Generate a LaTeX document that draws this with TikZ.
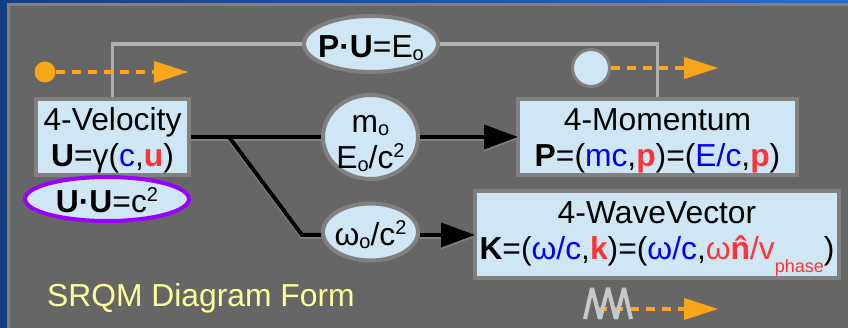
\documentclass[tikz,border=0pt]{standalone}
\usepackage{fontspec}
\setmainfont{Liberation Sans}
\usepackage{xcolor}
\usetikzlibrary{arrows.meta,positioning,calc,shapes.geometric}

\definecolor{panelgray}{HTML}{666666}
\definecolor{rimgray}{HTML}{808080}
\definecolor{linkgray}{HTML}{B0B0B0}
\definecolor{zaggray}{HTML}{C8C8C8}
\definecolor{boxblue}{HTML}{CFE7F5}
\definecolor{tipamber}{HTML}{F9A61A}
\definecolor{timeblue}{HTML}{0000FF}
\definecolor{spacered}{HTML}{FF3333}
\definecolor{normpurple}{HTML}{9900FF}
\definecolor{formyellow}{HTML}{FFFF99}
\definecolor{slideleft}{HTML}{153E80}
\definecolor{slideright}{HTML}{2A6AD0}

\newcommand{\tb}[1]{\textcolor{timeblue}{#1}}
\newcommand{\sr}[1]{\textcolor{spacered}{\textbf{#1}}}
\newcommand{\lowo}{\raisebox{-3pt}{\fontsize{20}{20}\selectfont o}}
\newcommand{\uptwo}{\raisebox{11pt}{\fontsize{20}{20}\selectfont 2}}
\newcommand{\topgap}{\rule{0pt}{30pt}}
\newcommand{\nhat}{\textbf{\rlap{\kern4.4ptˆ}n}}

\begin{document}
\begin{tikzpicture}[x=1pt,y=-1pt,
        every node/.style={font=\fontsize{31.8}{36}\selectfont, text=black},
        block/.style={rectangle, draw=rimgray, line width=4pt, fill=boxblue, inner sep=0pt, align=center},
        oval/.style={ellipse, draw=rimgray, line width=4pt, fill=boxblue, inner sep=-18pt, align=center},
        link/.style={draw=linkgray, line width=3.3pt},
        shadowed/.style={preaction={draw=rimgray, line width=4pt, transform canvas={yshift=-2pt}}},
        bar/.style={line width=4pt, shadowed},
        arr/.style={bar, shorten >=-2pt, -{Triangle[length=34pt,width=24pt]}},
        worldline/.style={draw=tipamber, line width=3.5pt, dash pattern=on 9pt off 7pt}
    ]
        \useasboundingbox (0,0) rectangle (848,328);
        % Slide background
        \shade[left color=slideleft, right color=slideright] (0,0) rectangle (848,328);
        \fill[panelgray, draw=rimgray, line width=3pt] (8,5) rectangle (852,332);

        % Boxes
        \node[block, minimum width=153pt, minimum height=76pt] (vel) at (112.5,137) {\topgap 4-Velocity\\\textbf{U}=γ(\tb{c},\sr{u})};
        \node[block, minimum width=279pt, minimum height=76pt] (mom) at (657.5,137) {\topgap 4-Momentum\\\textbf{P}=(\tb{mc},\sr{p})=(\tb{E/c},\sr{p})};
        \node[block, minimum width=364pt, minimum height=87pt] (wav) at (657,234.5) {\topgap 4-WaveVector\\\textbf{K}=(\tb{ω/c},\sr{k})=(\tb{ω/c},\textcolor{spacered}{ω\nhat/v\raisebox{-13pt}{\fontsize{18}{18}\selectfont phase}})};

        % Ovals
        \node[oval, minimum width=134pt, minimum height=56pt] (pu) at (371,44) {\topgap\textbf{P·U}=E\lowo};
        \node[oval, draw=normpurple, minimum width=164pt, minimum height=44pt] (uu) at (107,199) {\rule{0pt}{27pt}\textbf{U·U}=c\uptwo};
        \node[oval, minimum width=95pt, minimum height=84pt] (mass) at (370.5,137) {\topgap m\lowo\\E\lowo/c\uptwo};
        \node[oval, minimum width=95pt, minimum height=57pt] (freq) at (370.5,232) {\topgap ω\lowo/c\uptwo};

        % Links
        \draw[link] (vel.north) |- (pu.west);
        \draw[link] (pu.east) -| (mom.north);

        % Tensor arrows
        \coordinate (fork) at (229,137);
        \coordinate (bend) at (302,235);
        \draw[bar] (vel.east) -- (mass.west);
        \draw[arr] (mass.east) -- (mom.west);
        \draw[bar] (fork) -- (bend) -- (freq.west |- bend);
        \draw[arr] (freq.east |- bend) -- (wav.west |- bend);

        % Worldline icons
        \node[circle, fill=tipamber, minimum size=21pt, inner sep=0pt] (dot) at (45,72) {};
        \draw[worldline] (dot) -- (156,72);
        \node[circle, draw=rimgray, line width=3pt, fill=boxblue, minimum size=37pt, inner sep=0pt] (blob) at (591,68) {};
        \draw[worldline] (blob) -- (686,68);
        \coordinate (zigstart) at (598,309);
        \draw[worldline] (zigstart) -- (686,309);
        \draw[line width=4pt, draw=zaggray, line join=bevel] (585,319) -- (592,288) -- (600,319) -- (608,288) -- (616,319) -- (624,288) -- (631,319);
        \fill[tipamber] (154,61) -- (188,72) -- (154,83) -- cycle;
        \fill[tipamber] (684,57) -- (718,68) -- (684,79) -- cycle;
        \fill[tipamber] (684,298) -- (718,309) -- (684,320) -- cycle;

        % Caption
        \node[text=formyellow, anchor=base west, inner sep=0pt] (title) at (47,307) {SRQM Diagram Form};
    \end{tikzpicture}
\end{document}
